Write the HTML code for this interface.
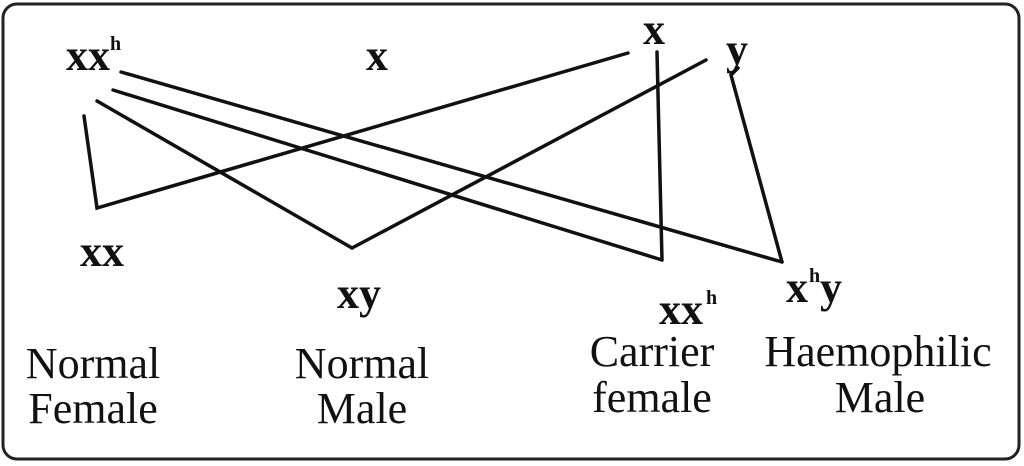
<!DOCTYPE html>
<html><head><style>
html,body{margin:0;padding:0;background:#fff;}
svg{display:block;}
text{font-family:"Liberation Serif",serif;fill:#111;}
.b{font-weight:bold;font-size:44px;}
.h{font-weight:bold;font-size:20px;}
.l{font-size:44px;}
</style></head><body>
<svg width="1024" height="466" viewBox="0 0 1024 466">
<rect x="3" y="4" width="1016" height="455" rx="14" fill="#fff" stroke="#222" stroke-width="3"/>
<g stroke="#111" stroke-width="3.5" fill="none" stroke-linecap="round">
<line x1="121" y1="72" x2="782" y2="262"/>
<line x1="113" y1="90" x2="662" y2="260"/>
<line x1="97" y1="101" x2="352" y2="248"/>
<polyline points="84,116 97,208 628,53"/>
<line x1="352" y1="248" x2="706" y2="60"/>
<line x1="657" y1="52" x2="662" y2="260"/>
<polyline points="738,68 731,75 782,262"/>
</g>
<text class="b" x="66" y="70">xx</text><text class="h" x="110" y="50">h</text>
<text class="b" x="366" y="70">x</text>
<text class="b" x="643" y="44">x</text>
<text class="b" x="726" y="64">y</text>
<text class="b" x="80" y="266">xx</text>
<text class="b" x="337" y="308">xy</text>
<text class="b" x="659" y="324">xx</text><text class="h" x="706" y="304">h</text>
<text class="b" x="786" y="302">x</text><text class="h" x="809" y="282">h</text><text class="b" x="820" y="302">y</text>
<text class="l" x="93" y="378" text-anchor="middle">Normal</text>
<text class="l" x="93" y="423" text-anchor="middle">Female</text>
<text class="l" x="362" y="378" text-anchor="middle">Normal</text>
<text class="l" x="362" y="423" text-anchor="middle">Male</text>
<text class="l" x="652" y="366" text-anchor="middle">Carrier</text>
<text class="l" x="652" y="412" text-anchor="middle">female</text>
<text class="l" x="878" y="366" text-anchor="middle">Haemophilic</text>
<text class="l" x="880" y="412" text-anchor="middle">Male</text>
</svg>
</body></html>
